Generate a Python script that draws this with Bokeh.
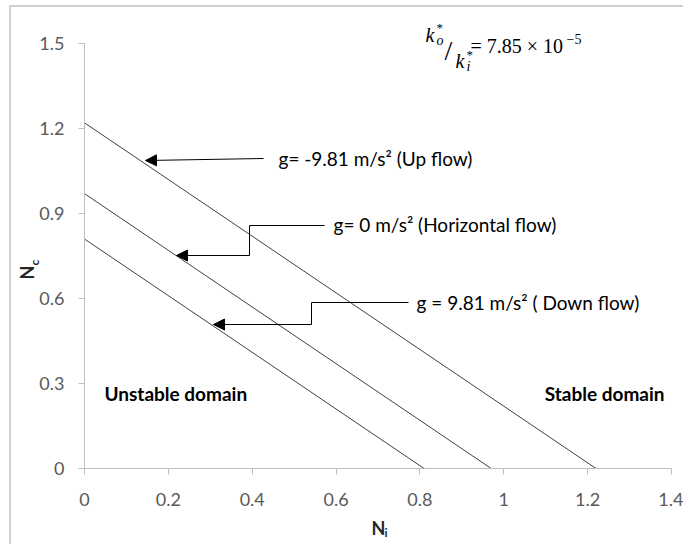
from bokeh.plotting import figure
from bokeh.models import Label, Arrow, NormalHead, FixedTicker, Range1d
from bokeh.embed import file_html
from bokeh.resources import INLINE

# ---------------- data ----------------
x_ticks = [0, 0.2, 0.4, 0.6, 0.8, 1.0, 1.2, 1.4]
x_tick_labels = ["0", "0.2", "0.4", "0.6", "0.8", "1", "1.2", "1.4"]
y_ticks = [0, 0.3, 0.6, 0.9, 1.2, 1.5]
y_tick_labels = ["0", "0.3", "0.6", "0.9", "1.2", "1.5"]

series_names = ["Up flow", "Horizontal flow", "Down flow"]
nc_at_ni_zero = [1.22, 0.97, 0.81]   # Nc where Ni = 0
ni_at_nc_zero = [1.22, 0.97, 0.81]   # Ni where Nc = 0
annotations = ["g= -9.81 m/s² (Up flow)",
               "g= 0 m/s² (Horizontal flow)",
               "g = 9.81 m/s² ( Down flow)"]

# ---------------- layout helpers ----------------
OX, OY = 11, 7          # page offset of the figure (margin + border)
W, H = 685 - OX, 546 - OY
FL, FR, FT, FB = 84, 671, 43, 468   # axis extents in page pixels


def dx(px):
    return (px - FL) / (FR - FL) * 1.4


def dy(py):
    return (FB - py) / (FB - FT) * 1.5


# The frame covers the whole canvas; axes are pinned at 0 inside it.
p = figure(width=W, height=H, output_backend="svg", toolbar_location=None,
           x_range=Range1d(dx(OX), dx(685)), y_range=Range1d(dy(546), dy(OY)),
           min_border_left=0, min_border_right=0,
           min_border_top=0, min_border_bottom=0)
p.title.visible = False
p.styles = {"margin-left": "9px", "margin-top": "5px",
            "border-left": "2px solid #d0d0d0", "border-top": "2px solid #d0d0d0"}
p.outline_line_color = None
p.xgrid.visible = False
p.ygrid.visible = False
p.background_fill_color = "white"
p.border_fill_color = "white"

FONT = "Lato"
for ax, ticks, labels in ((p.xaxis[0], x_ticks, x_tick_labels),
                          (p.yaxis[0], y_ticks, y_tick_labels)):
    ax.ticker = FixedTicker(ticks=ticks)
    ax.major_label_overrides = {t: l for t, l in zip(ticks, labels)}
    ax.bounds = (ticks[0], ticks[-1])
    ax.fixed_location = 0
    ax.axis_line_color = "#bfbfbf"
    ax.major_tick_line_color = "#bfbfbf"
    ax.major_tick_out = 6
    ax.major_tick_in = 0
    ax.minor_tick_line_color = None
    ax.major_label_text_font = FONT
    ax.major_label_text_font_size = "18px"
    ax.major_label_text_color = "#595959"
p.xaxis.major_label_standoff = 18
p.yaxis.major_label_standoff = 14

# ---------------- lines ----------------
for nc0, ni0 in zip(nc_at_ni_zero, ni_at_nc_zero):
    p.line([0, ni0], [nc0, 0], line_color="#404040", line_width=1)

# ---------------- annotation arrows ----------------
ink = "#000000"
head = dict(size=11, fill_color=ink, line_color=ink)
p.add_layout(Arrow(end=NormalHead(**head), x_start=dx(263), y_start=dy(158),
                   x_end=dx(145), y_end=dy(160), line_color=ink, line_width=1))
p.line([dx(324), dx(249), dx(249)], [dy(225), dy(225), dy(255)], line_color=ink, line_width=1)
p.add_layout(Arrow(end=NormalHead(**head), x_start=dx(249), y_start=dy(255),
                   x_end=dx(176), y_end=dy(255), line_color=ink, line_width=1))
p.line([dx(408), dx(311), dx(311)], [dy(302), dy(302), dy(324)], line_color=ink, line_width=1)
p.add_layout(Arrow(end=NormalHead(**head), x_start=dx(311), y_start=dy(324),
                   x_end=dx(213), y_end=dy(324), line_color=ink, line_width=1))


def label(txt, px, py, size, font=FONT, style="normal", color="#000000",
          angle=0.0, align="left"):
    p.add_layout(Label(x=dx(px), y=dy(py), text=txt, text_font=font,
                       text_font_size=size, text_font_style=style,
                       text_color=color, angle=angle,
                       text_baseline="middle", text_align=align))


text_pos = [(278, 158), (333, 224), (416, 302)]
for txt, (tx, ty) in zip(annotations, text_pos):
    label(txt, tx, ty, "19px")

label("Unstable domain", 104, 393, "19px", style="bold")
label("Stable domain", 664, 393, "19px", style="bold", align="right")

# ---------------- axis titles ----------------
label("N", 371, 527, "18px", style="bold", color="#262626")
label("i", 384, 532, "12px", style="bold", color="#262626")
label("N", 26, 279, "18px", style="bold", color="#262626", angle=1.5708)
label("c", 34, 265, "12px", style="bold", color="#262626", angle=1.5708)

# ---------------- equation ----------------
SER = "Liberation Serif"
eq_parts = [
    ("k", 425, 34, "20px", "italic"),
    ("*", 436, 27, "13px", "normal"),
    ("o", 436, 40, "14px", "italic"),
    ("/", 444, 50, "28px", "normal"),
    ("k", 455, 60, "20px", "italic"),
    ("*", 466, 54, "13px", "normal"),
    ("i", 466, 66, "14px", "italic"),
    ("= 7.85 × 10", 470, 45, "20px", "normal"),
    ("−5", 566, 38, "14px", "normal"),
]
for txt, tx, ty, fs, st in eq_parts:
    label(txt, tx, ty, fs, font=SER, style=st)

open("out.html", "w").write(file_html(p, INLINE))
